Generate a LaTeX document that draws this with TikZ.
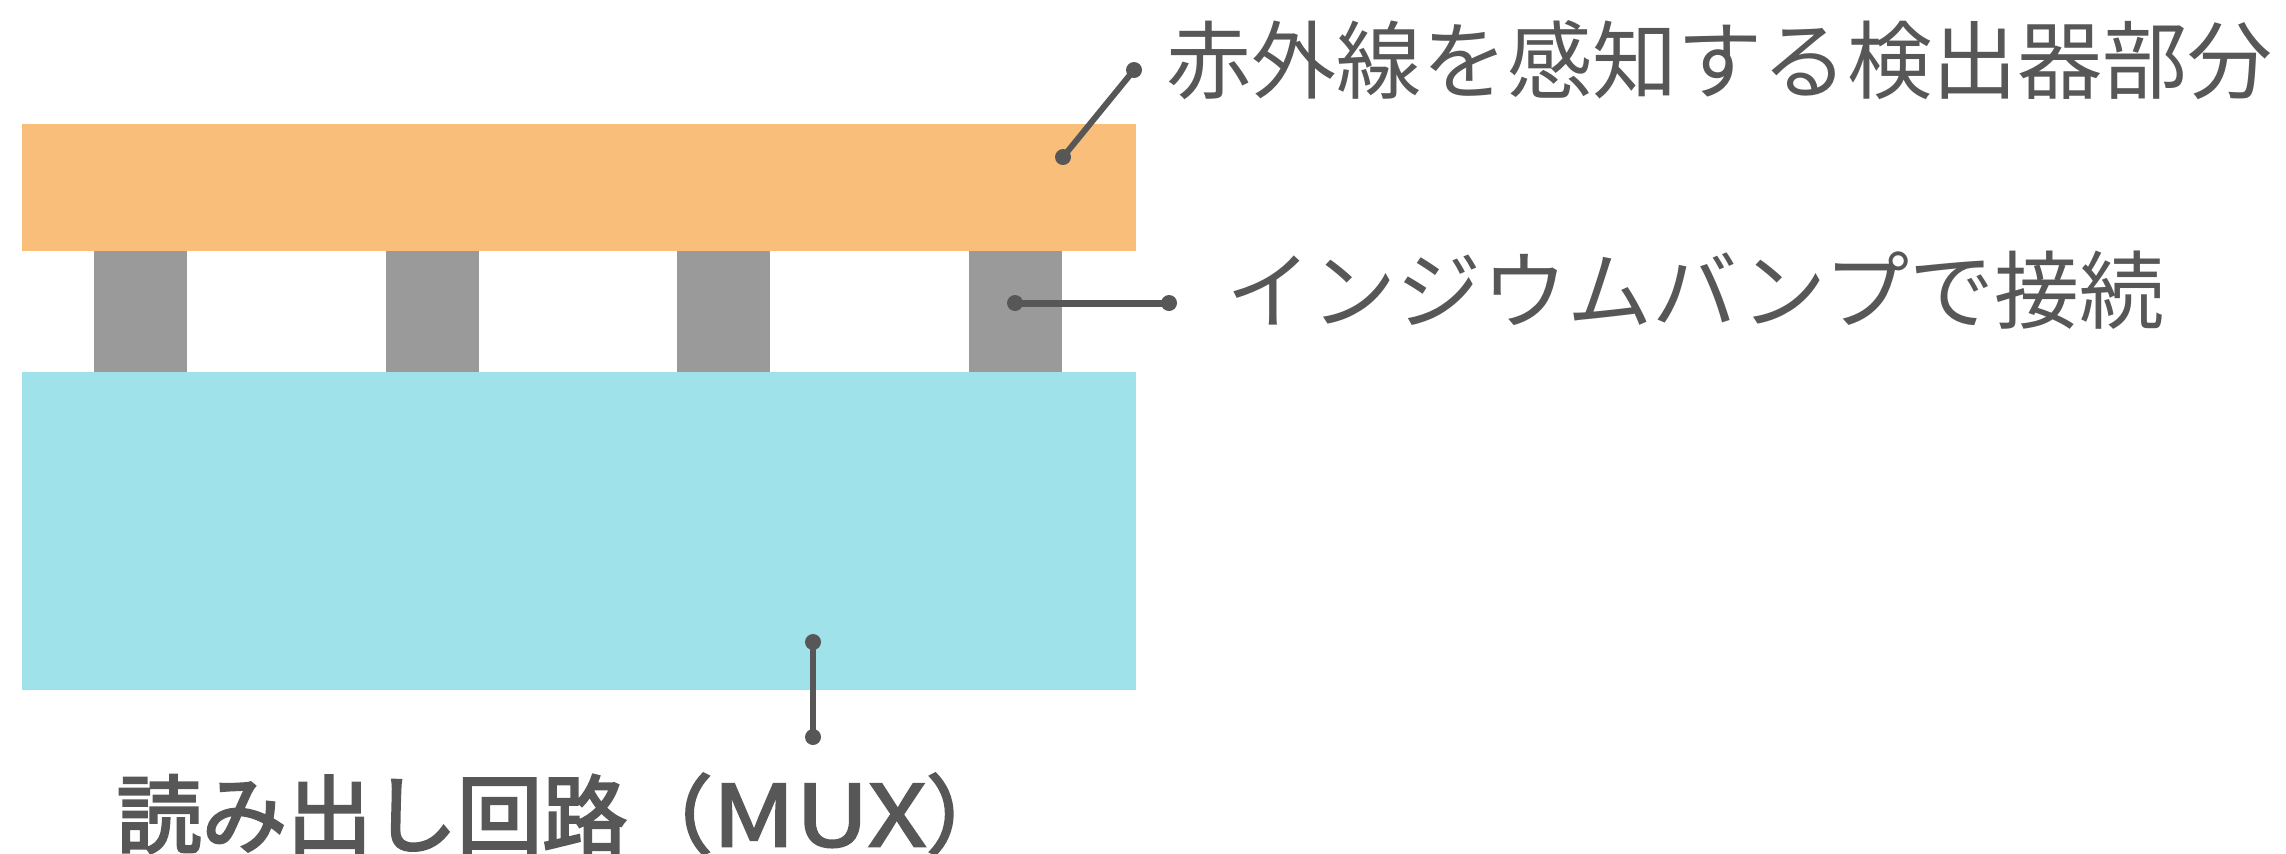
\documentclass[tikz,border=0pt]{standalone}
\usepackage{fontspec}
\setmainfont{Noto Sans CJK JP}
\newfontfamily\medfont[FakeBold=3]{Noto Sans CJK JP}
\newfontfamily\medlatin[FakeBold=2.5, FakeStretch=1.2]{Noto Sans CJK JP}
\definecolor{det}{HTML}{F9BE7A}
\definecolor{mux}{HTML}{A0E2EA}
\definecolor{bumpc}{HTML}{9A9A9A}
\definecolor{inkc}{HTML}{575757}
\begin{document}
\begin{tikzpicture}[x=0.01cm,y=-0.01cm,
  layer/.style={draw=none, inner sep=0, outer sep=0, rectangle, anchor=north west},
  bumpbox/.style={layer, fill=bumpc, minimum width=0.93cm, minimum height=1.21cm},
  dot/.style={circle, fill=inkc, inner sep=0, outer sep=0, minimum size=0.16cm},
  lead/.style={draw=inkc, line width=0.06cm},
  lbl/.style={text=inkc, font=\fontsize{24.2pt}{28pt}\selectfont, inner sep=0, anchor=west}]
\useasboundingbox (0,0) rectangle (2286,853);
% layers
\node[layer, fill=det, minimum width=11.13cm, minimum height=1.27cm] (det) at (22,124) {};
\node[layer, fill=mux, minimum width=11.13cm, minimum height=3.18cm] (mux) at (22,372) {};
\node[bumpbox] (b1) at (94,251) {};
\node[bumpbox] (b2) at (386,251) {};
\node[bumpbox] (b3) at (677,251) {};
\node[bumpbox] (b4) at (969,251) {};
% leader dots
\node[dot] (d1a) at (1063,157) {};
\node[dot] (d1b) at (1134,70) {};
\node[dot] (d2a) at (1015,303) {};
\node[dot] (d2b) at (1169,303) {};
\node[dot] (d3a) at (813,642) {};
\node[dot] (d3b) at (813,737) {};
\draw[lead] (d1a.center) -- (d1b.center);
\draw[lead, line width=0.07cm] (d2a.center) -- (d2b.center);
\draw[lead] (d3a.center) -- (d3b.center);
% labels
\node[lbl] (t1) at (1166,60) {赤外線を感知する検出器部分};
\node[lbl, font=\fontsize{24.2pt}{28pt}\selectfont\medfont] (t3) at (116,814) {読み出し回路（{\medlatin MUX}）};
\node[lbl] (t2) at (1226,290) {インジウムバンプで接続};
\end{tikzpicture}
\end{document}
